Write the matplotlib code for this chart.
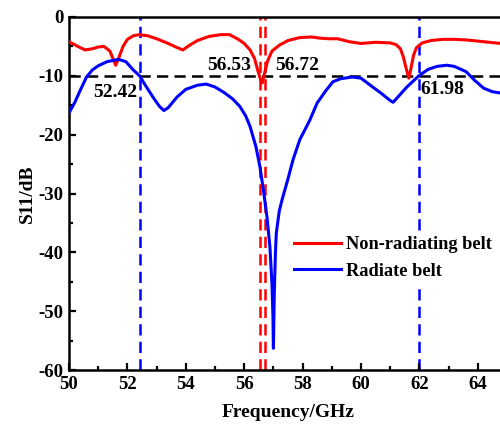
import numpy as np
import matplotlib
matplotlib.use('Agg')
import matplotlib.pyplot as plt
from matplotlib.ticker import MultipleLocator

plt.rcParams['font.family'] = ['Liberation Serif', 'DejaVu Serif']
plt.rcParams['font.weight'] = 'bold'
plt.rcParams['axes.unicode_minus'] = False

# Non-radiating belt (red)
freq_red = [50.0, 50.3, 50.55, 50.8, 51.0, 51.2, 51.4, 51.5, 51.6, 51.7, 51.85,
            52.0, 52.2, 52.4, 52.7, 53.0, 53.4, 53.7, 53.9, 54.1, 54.4, 54.8,
            55.2, 55.5, 55.8, 56.0, 56.2, 56.35, 56.45, 56.55, 56.62, 56.7,
            56.8, 56.95, 57.2, 57.5, 57.9, 58.3, 58.6, 58.9, 59.2, 59.6, 60.0,
            60.5, 61.0, 61.2, 61.35, 61.45, 61.55, 61.64, 61.72, 61.8, 61.9,
            62.1, 62.4, 62.8, 63.2, 63.6, 64.0, 64.4, 65.0]
s11_red = [-4.2, -5.0, -5.6, -5.4, -5.1, -5.0, -5.8, -7.0, -8.2, -7.0, -5.0,
           -3.8, -3.2, -3.0, -3.2, -3.7, -4.5, -5.2, -5.6, -4.9, -4.0, -3.3,
           -3.0, -3.0, -3.8, -4.5, -5.6, -7.0, -8.8, -10.5, -11.2, -9.5,
           -7.5, -5.8, -4.8, -4.0, -3.5, -3.4, -3.6, -3.7, -3.7, -4.2, -4.5,
           -4.3, -4.4, -4.7, -5.4, -6.8, -8.8, -10.4, -8.5, -6.5, -5.2,
           -4.4, -4.0, -3.8, -3.8, -3.9, -4.1, -4.3, -4.6]

# Radiate belt (blue)
freq_blue = [50.0, 50.2, 50.4, 50.6, 50.8, 51.0, 51.3, 51.7, 51.95, 52.2, 52.42,
             52.6, 52.9, 53.1, 53.25, 53.4, 53.7, 54.0, 54.4, 54.7, 55.0, 55.3,
             55.6, 55.85, 56.05, 56.2, 56.4, 56.54, 56.66, 56.78, 56.88, 56.95,
             56.985, 57.0, 57.03, 57.07, 57.1, 57.2, 57.3, 57.5, 57.67, 57.9,
             58.25, 58.5, 58.8, 59.04, 59.3, 59.7, 60.0, 60.4, 60.7, 61.0, 61.1,
             61.3, 61.57, 61.98, 62.3, 62.6, 62.94, 63.2, 63.6, 63.9, 64.2,
             64.5, 64.75, 65.0]
s11_blue = [-16.3, -14.5, -12.3, -10.2, -9.0, -8.3, -7.6, -7.2, -7.6, -9.0, -10.0,
            -11.5, -13.8, -15.2, -15.9, -15.4, -13.6, -12.3, -11.6, -11.4, -11.9, -12.8,
            -13.9, -15.2, -16.8, -18.6, -22.0, -25.5, -29.5, -34.0, -39.0, -45.3,
            -51.0, -56.3, -47.0, -40.0, -36.7, -33.0, -31.0, -27.5, -24.3, -20.9,
            -17.5, -14.6, -12.5, -11.0, -10.5, -10.2, -10.4, -11.9, -13.0, -14.2, -14.5,
            -13.4, -11.9, -10.0, -8.9, -8.4, -8.2, -8.4, -9.3, -10.8, -12.1,
            -12.7, -12.9, -12.9]

red_marks = [56.53, 56.72]
blue_marks = [52.42, 61.98]
threshold = -10

fig = plt.figure(figsize=(5, 4.3), dpi=100)
ax = fig.add_axes([0.138, 0.1395, 1.014 - 0.138, 0.9605 - 0.1395])

dash = (0, (4.5, 2.5))
ax.axhline(threshold, color='black', lw=1.8, linestyle=dash, zorder=1)
for f in red_marks:
    ax.axvline(f, color='red', lw=1.8, linestyle=dash, zorder=1)
for f in blue_marks:
    ax.axvline(f, color='blue', lw=1.8, linestyle=dash, zorder=1)

ax.plot(freq_red, s11_red, color='red', lw=2.2, label='Non-radiating belt', zorder=3)
ax.plot(freq_blue, s11_blue, color='blue', lw=2.2, label='Radiate belt', zorder=3)

ax.set_xlim(50, 65)
ax.set_ylim(-60, 0)
ax.xaxis.set_major_locator(MultipleLocator(2))
ax.xaxis.set_minor_locator(MultipleLocator(1))
ax.yaxis.set_major_locator(MultipleLocator(10))
ax.yaxis.set_minor_locator(MultipleLocator(5))
ax.tick_params(which='both', direction='in', labelsize=13.5, width=1.6)
ax.tick_params(axis='x', pad=4)
ax.tick_params(axis='y', pad=4)
ax.tick_params(which='major', length=5)
ax.tick_params(which='minor', length=3)
for sp in ax.spines.values():
    sp.set_linewidth(1.8)

ax.set_xlabel('Frequency/GHz', fontsize=14, fontweight='bold', labelpad=8)
ax.set_ylabel('S11/dB', fontsize=14, fontweight='bold', labelpad=2)

ax.text(51.6, -12.75, '52.42', fontsize=14, fontweight='bold', ha='center', va='center', zorder=4)
ax.text(55.5, -8.2, '56.53', fontsize=14, fontweight='bold', ha='center', va='center', zorder=4)
ax.text(57.8, -8.2, '56.72', fontsize=14, fontweight='bold', ha='center', va='center', zorder=4)
ax.text(62.8, -12.4, '61.98', fontsize=14, fontweight='bold', ha='center', va='center', zorder=4)

leg = ax.legend(loc='upper left', bbox_to_anchor=(0.48, 0.42), fontsize=13.2,
                frameon=True, facecolor='white', edgecolor='none', framealpha=1,
                handlelength=2.55, handletextpad=0.3, borderpad=0.3, labelspacing=0.5)
leg.set_zorder(5)

fig.savefig('out.png', dpi=100)
